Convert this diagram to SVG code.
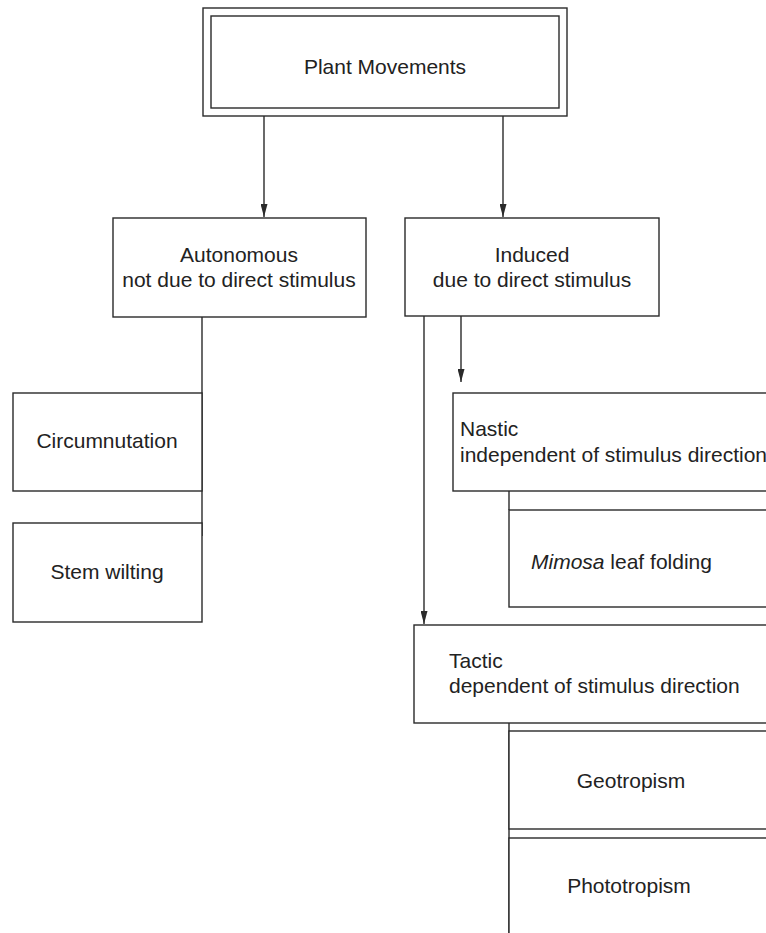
<svg xmlns="http://www.w3.org/2000/svg" width="766" height="933" viewBox="0 0 766 933">
<style>
.box{fill:#fff;stroke:#2a2a2a;stroke-width:1.4}
.ln{fill:none;stroke:#2a2a2a;stroke-width:1.4}
text{font-family:"Liberation Sans",Arial,sans-serif;font-size:21px;fill:#222}
.c{text-anchor:middle}
</style>
<defs>
<marker id="ah" markerWidth="13" markerHeight="7" refX="13" refY="3.5" orient="auto" markerUnits="userSpaceOnUse" viewBox="0 0 13 7">
<path d="M0,0 L13,3.5 L0,7 Z" fill="#2a2a2a"/>
</marker>
</defs>
<g id="connectors">
<line class="ln" x1="264" y1="116" x2="264" y2="217" marker-end="url(#ah)"/>
<line class="ln" x1="503" y1="116" x2="503" y2="217" marker-end="url(#ah)"/>
<line class="ln" x1="202" y1="317" x2="202" y2="536"/>
<line class="ln" x1="424" y1="316" x2="424" y2="624" marker-end="url(#ah)"/>
<line class="ln" x1="461" y1="316" x2="461" y2="382" marker-end="url(#ah)"/>
<line class="ln" x1="509" y1="491" x2="509" y2="510"/>
<line class="ln" x1="509" y1="723" x2="509" y2="940"/>
</g>
<g id="plant-movements">
<rect class="box" x="203" y="8" width="364" height="108"/>
<rect class="box" x="211" y="16" width="348" height="92"/>
<text class="c" x="385" y="74">Plant Movements</text>
</g>
<g id="autonomous">
<rect class="box" x="113" y="218" width="253" height="99"/>
<text class="c" x="239" y="262">Autonomous</text>
<text class="c" x="239" y="287">not due to direct stimulus</text>
</g>
<g id="induced">
<rect class="box" x="405" y="218" width="254" height="98"/>
<text class="c" x="532" y="262">Induced</text>
<text class="c" x="532" y="287">due to direct stimulus</text>
</g>
<g id="circumnutation">
<rect class="box" x="13" y="393" width="189" height="98"/>
<text class="c" x="107" y="448">Circumnutation</text>
</g>
<g id="stem-wilting">
<rect class="box" x="13" y="523" width="189" height="99"/>
<text class="c" x="107" y="579">Stem wilting</text>
</g>
<g id="nastic">
<rect class="box" x="453" y="393" width="330" height="98"/>
<text x="460" y="436">Nastic</text>
<text x="460" y="462">independent of stimulus direction</text>
</g>
<g id="mimosa">
<rect class="box" x="509" y="510" width="274" height="97"/>
<text x="531" y="569"><tspan font-style="italic">Mimosa</tspan> leaf folding</text>
</g>
<g id="tactic">
<rect class="box" x="414" y="625" width="369" height="98"/>
<text x="449" y="668">Tactic</text>
<text x="449" y="693">dependent of stimulus direction</text>
</g>
<g id="geotropism">
<rect class="box" x="509" y="731" width="274" height="98"/>
<text class="c" x="631" y="788">Geotropism</text>
</g>
<g id="phototropism">
<rect class="box" x="509" y="838" width="274" height="110"/>
<text class="c" x="629" y="893">Phototropism</text>
</g>
</svg>
